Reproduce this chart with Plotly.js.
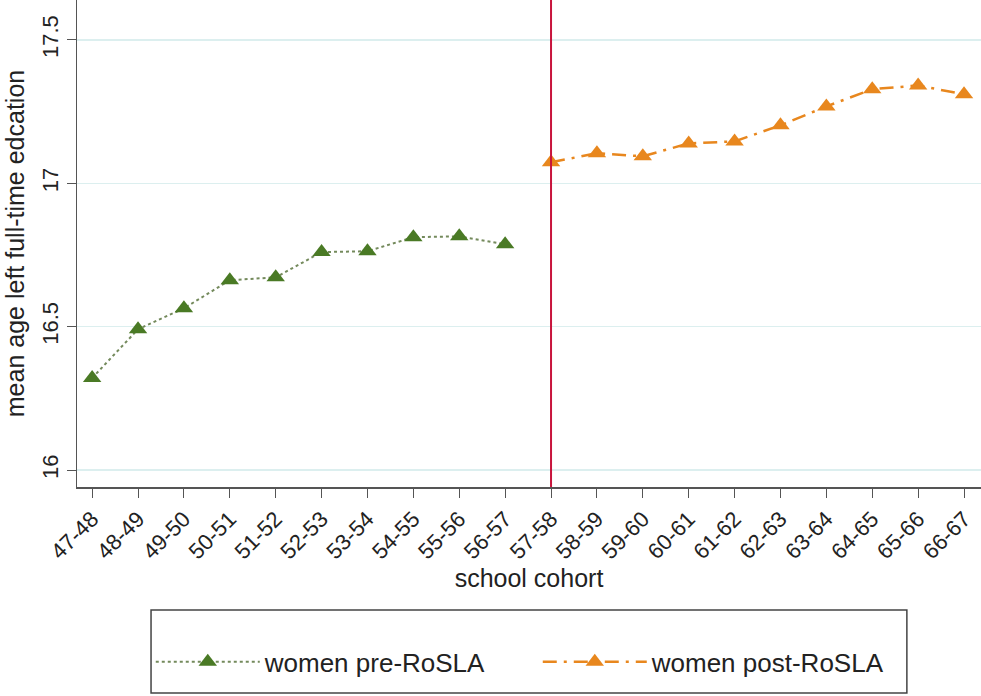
<!DOCTYPE html>
<html><head><meta charset="utf-8">
<script src="https://cdn.plot.ly/plotly-3.0.1.min.js"></script>
<style>html,body{margin:0;padding:0;background:#fff}</style>
</head><body>
<div id="chart" style="width:981px;height:696px"></div>
<script>
const cohortsPre = ["47-48","48-49","49-50","50-51","51-52","52-53","53-54","54-55","55-56","56-57"];
const valuesPre = [16.321,16.491,16.564,16.662,16.672,16.760,16.763,16.812,16.815,16.787];
const cohortsPost = ["57-58","58-59","59-60","60-61","61-62","62-63","63-64","64-65","65-66","66-67"];
const valuesPost = [17.073,17.105,17.094,17.139,17.146,17.202,17.268,17.328,17.341,17.310];
const allCohorts = cohortsPre.concat(cohortsPost);
const yTicks = [16, 16.5, 17, 17.5];
const cutoffCohort = "57-58";

const font = "Liberation Sans, Arial, sans-serif";
const traces = [
  {x: cohortsPre, y: valuesPre, name: "women pre-RoSLA", type: "scatter", mode: "lines+markers",
   line: {color: "#748a5c", dash: "dot", width: 2},
   marker: {symbol: "triangle-up", size: 16, color: "#4a7a25"}},
  {x: cohortsPost, y: valuesPost, name: "women post-RoSLA", type: "scatter", mode: "lines+markers",
   line: {color: "#e8871e", dash: "14px,7px,3px,7px", width: 2.5},
   marker: {symbol: "triangle-up", size: 16, color: "#e8871e"}}
];
const layout = {
  width: 981, height: 696,
  margin: {l: 77, r: 0, t: 0, b: 209},
  paper_bgcolor: "#fff", plot_bgcolor: "#fff",
  font: {family: font, color: "#222"},
  showlegend: true,
  legend: {orientation: "h", x: 0.5097, xanchor: "center", y: -0.359, yanchor: "middle",
           font: {size: 26, family: font, color: "#222"}, itemwidth: 104, traceorder: "normal",
           entrywidth: 268, entrywidthmode: "pixels",
           bgcolor: "rgba(0,0,0,0)"},
  xaxis: {type: "category", categoryorder: "array", categoryarray: allCohorts,
          range: [-0.33, 19.37], showgrid: false, zeroline: false, automargin: false,
          showline: true, linecolor: "#555", linewidth: 1.5,
          ticks: "outside", ticklen: 9, tickcolor: "#555", tickangle: -45,
          tickfont: {size: 22, family: font, color: "#222"},
          title: {text: "school cohort", font: {size: 25, family: font, color: "#222"}, standoff: 6}},
  yaxis: {range: [15.941, 17.639], tickvals: yTicks, ticktext: yTicks.map(String),
          showgrid: true, gridcolor: "#dcefef", gridwidth: 1.5, zeroline: false, automargin: false,
          showline: true, linecolor: "#555", linewidth: 1.5,
          ticks: "outside", ticklen: 9, tickcolor: "#555", tickangle: -90,
          tickfont: {size: 22, family: font, color: "#222"},
          title: {text: "mean age left full-time edcation", font: {size: 25, family: font, color: "#222"}, standoff: 6}},
  shapes: [
    {type: "line", xref: "x", yref: "paper", x0: cutoffCohort, x1: cutoffCohort, y0: 0, y1: 1,
     line: {color: "#c8143c", width: 2}},
    {type: "rect", xref: "paper", yref: "paper", x0: 0.0819, x1: 0.918, y0: -0.2526, y1: -0.423,
     line: {color: "#444", width: 1.5}, fillcolor: "rgba(0,0,0,0)"}
  ]
};
Plotly.newPlot("chart", traces, layout, {displayModeBar: false, staticPlot: true});
</script>
</body></html>
